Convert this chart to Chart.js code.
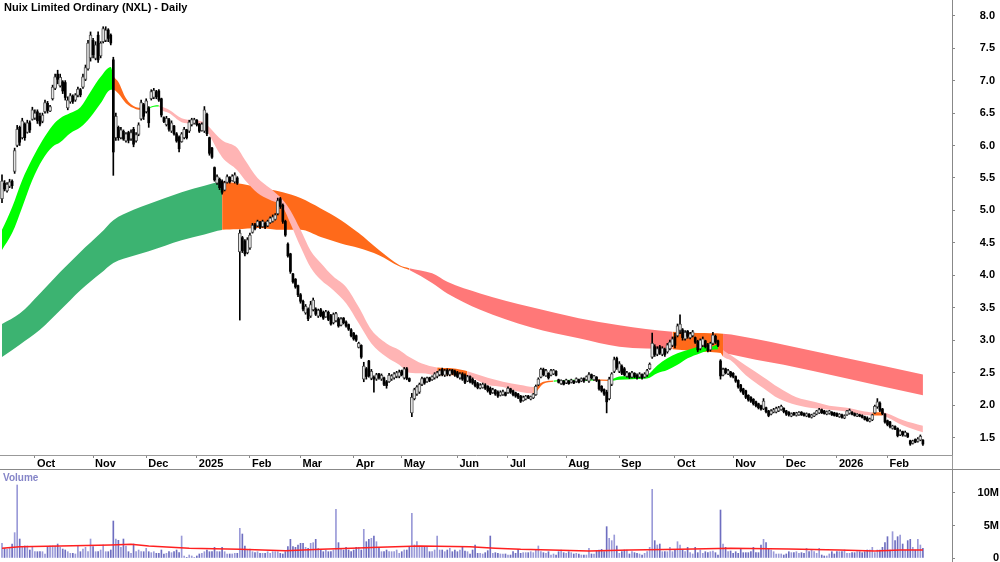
<!DOCTYPE html>
<html>
<head>
<meta charset="utf-8">
<script src="https://cdn.jsdelivr.net/npm/chart.js@4.4.1/dist/chart.umd.min.js"></script>
<style>
  html, body { margin: 0; padding: 0; background: #fff; }
  #wrap { position: relative; width: 1000px; height: 562px; overflow: hidden; font-family: "Liberation Sans", Arial, sans-serif; }
  canvas { position: absolute; left: 0; }
  #title { position: absolute; left: 4px; top: 1px; font-weight: bold; font-size: 11px; color: #000; white-space: nowrap; }
  #vlabel { position: absolute; left: 3px; top: 472px; font-weight: bold; font-size: 10px; color: #8585c8; }
  .ln { position: absolute; background: #999; }
</style>
</head>
<body>
<div id="wrap">
  <canvas id="price" width="1000" height="469" style="top:0"></canvas>
  <canvas id="vol" width="1000" height="93" style="top:469px"></canvas>
  <div class="ln" style="left:0;top:469px;width:1000px;height:1px;background:#888"></div>
  <div class="ln" style="left:952px;top:455px;width:1px;height:14px"></div>
  <div id="title">Nuix Limited Ordinary (NXL) - Daily</div>
  <div id="vlabel">Volume</div>
</div>
<script>
// daily candles, first bar = 12 Sep 2024
const opens = [
  5.18,5.42,5.30,5.37,5.45,5.60,6.00,6.28,6.12,6.33, 6.20,6.35,6.40,6.42,6.52,6.45,6.37,6.52,6.65,6.53,
  6.72,6.88,7.10,6.92,6.98,6.97,6.58,6.67,6.76,6.70, 6.77,6.86,6.90,7.02,7.18,7.35,7.62,7.34,7.70,7.38,
  7.60,7.62,7.78,7.70,7.32,6.12,6.28,6.12,6.22,6.07, 6.20,6.10,6.25,6.07,6.17,6.41,6.63,6.52,6.58,6.72,
  6.74,6.83,6.84,6.72,6.43,6.32,6.40,6.22,6.30,6.18, 6.13,6.06,6.12,6.24,6.22,6.32,6.34,6.39,6.33,6.23,
  6.22,6.48,6.12,5.96,5.66,5.42,5.48,5.45,5.31,5.43, 5.51,5.46,5.44,5.50,4.36,4.58,4.53,4.35,4.42,4.66,
  4.78,4.76,4.82,4.75,4.80,4.76,4.81,4.83,4.86,4.95, 5.18,5.08,4.83,4.48,4.33,4.02,3.94,3.84,3.70,3.60,
  3.42,3.48,3.37,3.47,3.48,3.37,3.47,3.43,3.36,3.43, 3.38,3.27,3.30,3.33,3.23,3.34,3.28,3.24,3.16,3.11,
  3.07,2.89,2.92,2.40,2.56,2.68,2.41,2.43,2.40,2.48, 2.40,2.42,2.36,2.36,2.40,2.42,2.44,2.44,2.53,2.42,
  2.56,2.41,1.88,2.10,2.17,2.20,2.32,2.41,2.36,2.42, 2.39,2.42,2.44,2.47,2.55,2.46,2.54,2.47,2.54,2.52,
  2.50,2.42,2.48,2.46,2.37,2.44,2.40,2.36,2.33,2.26, 2.27,2.31,2.29,2.26,2.19,2.23,2.20,2.15,2.16,2.19,
  2.19,2.25,2.22,2.19,2.17,2.14,2.07,2.09,2.14,2.09, 2.11,2.16,2.31,2.43,2.55,2.45,2.49,2.46,2.48,2.52,
  2.39,2.33,2.37,2.34,2.37,2.35,2.37,2.36,2.39,2.37, 2.41,2.39,2.37,2.47,2.39,2.43,2.38,2.29,2.24,2.20,
  2.10,2.32,2.52,2.72,2.52,2.60,2.56,2.44,2.49,2.43, 2.49,2.46,2.43,2.47,2.43,2.46,2.56,2.74,2.90,2.78,
  2.90,2.78,2.86,2.82,2.87,2.92,3.05,3.07,3.15,3.16, 3.02,3.14,3.04,3.07,3.04,2.98,2.87,2.92,2.99,2.93,
  2.85,2.95,3.06,2.99,2.68,2.46,2.56,2.48,2.51,2.49, 2.44,2.38,2.31,2.25,2.22,2.15,2.12,2.09,2.05,2.02,
  1.99,1.94,1.96,1.91,1.86,1.89,1.89,1.91,1.93,1.95, 1.91,1.89,1.83,1.88,1.84,1.85,1.89,1.87,1.83,1.86,
  1.81,1.83,1.86,1.88,1.93,1.91,1.86,1.87,1.89,1.88, 1.87,1.82,1.85,1.80,1.85,1.87,1.89,1.87,1.83,1.85,
  1.84,1.82,1.80,1.75,1.77,1.88,1.97,2.03,1.94,1.86, 1.76,1.74,1.64,1.67,1.64,1.54,1.59,1.53,1.56,1.45,
  1.41,1.47,1.44,1.46,1.46
];
const highs = [
  5.55,5.46,5.43,5.48,5.47,5.96,6.31,6.30,6.42,6.35, 6.39,6.38,6.59,6.55,6.55,6.50,6.50,6.70,6.68,6.62,
  6.93,7.10,7.16,7.10,7.00,7.00,6.75,6.80,6.78,6.80, 6.90,6.88,7.10,7.24,7.62,7.75,7.65,7.60,7.75,7.60,
  7.83,7.83,7.80,7.72,7.36,6.50,6.30,6.28,6.24,6.20, 6.22,6.24,6.28,6.20,6.35,6.70,6.65,6.72,6.60,6.86,
  6.88,6.85,6.86,6.73,6.44,6.45,6.42,6.38,6.31,6.20, 6.15,6.20,6.28,6.25,6.39,6.42,6.42,6.40,6.34,6.35,
  6.60,6.50,6.13,5.97,5.67,5.55,5.50,5.47,5.45,5.55, 5.52,5.55,5.58,5.52,4.70,4.60,4.55,4.58,4.65,4.80,
  4.80,4.85,4.83,4.85,4.82,4.85,4.90,4.93,4.95,5.19, 5.20,5.10,4.85,4.50,4.34,4.03,3.95,3.85,3.72,3.62,
  3.55,3.50,3.60,3.65,3.50,3.48,3.49,3.45,3.46,3.45, 3.40,3.42,3.43,3.35,3.35,3.35,3.30,3.25,3.18,3.12,
  3.08,2.97,2.93,2.66,2.58,2.69,2.55,2.45,2.49,2.49, 2.48,2.43,2.38,2.49,2.47,2.50,2.52,2.54,2.54,2.58,
  2.58,2.42,2.18,2.26,2.30,2.34,2.43,2.42,2.43,2.43, 2.45,2.50,2.52,2.55,2.57,2.55,2.56,2.55,2.55,2.54,
  2.52,2.50,2.50,2.48,2.46,2.45,2.42,2.38,2.35,2.33, 2.34,2.33,2.30,2.28,2.26,2.24,2.22,2.22,2.23,2.20,
  2.28,2.26,2.23,2.20,2.18,2.15,2.14,2.15,2.15,2.14, 2.18,2.31,2.42,2.57,2.57,2.55,2.50,2.55,2.55,2.53,
  2.40,2.39,2.38,2.40,2.38,2.40,2.38,2.42,2.40,2.42, 2.42,2.45,2.50,2.48,2.46,2.44,2.39,2.30,2.25,2.23,
  2.43,2.50,2.74,2.74,2.67,2.62,2.58,2.52,2.50,2.52, 2.50,2.48,2.50,2.48,2.50,2.55,2.65,3.11,2.93,2.90,
  2.92,2.90,2.88,2.95,3.00,3.05,3.11,3.25,3.39,3.18, 3.15,3.15,3.12,3.15,3.05,3.00,3.02,3.05,3.00,2.95,
  2.97,3.12,3.08,3.00,2.70,2.57,2.57,2.55,2.52,2.50, 2.45,2.39,2.32,2.26,2.23,2.16,2.13,2.10,2.06,2.03,
  2.00,2.10,1.97,1.92,1.93,1.95,1.97,1.98,2.00,1.96, 1.92,1.90,1.88,1.89,1.89,1.90,1.90,1.88,1.88,1.87,
  1.86,1.88,1.92,1.95,1.94,1.92,1.91,1.92,1.90,1.89, 1.88,1.87,1.86,1.85,1.92,1.94,1.90,1.88,1.87,1.86,
  1.85,1.83,1.82,1.80,1.86,2.00,2.10,2.05,1.95,1.87, 1.77,1.75,1.69,1.68,1.65,1.62,1.60,1.60,1.57,1.46,
  1.46,1.48,1.50,1.54,1.47
];
const lows = [
  5.12,5.30,5.28,5.35,5.34,5.57,5.98,6.00,6.10,6.08, 6.19,6.20,6.39,6.40,6.34,6.30,6.35,6.50,6.50,6.52,
  6.70,6.86,6.95,6.90,6.80,6.70,6.55,6.65,6.65,6.68, 6.75,6.75,6.88,7.00,7.16,7.30,7.35,7.32,7.28,7.35,
  7.58,7.60,7.60,7.55,5.54,6.08,6.08,6.10,6.08,6.05, 6.04,6.08,5.98,6.05,6.15,6.39,6.40,6.50,6.28,6.70,
  6.72,6.72,6.68,6.44,6.35,6.30,6.22,6.20,6.16,6.05, 5.90,6.05,6.10,6.10,6.20,6.30,6.33,6.30,6.20,6.22,
  6.20,6.15,5.85,5.80,5.45,5.40,5.32,5.25,5.30,5.42, 5.42,5.45,5.42,5.40,3.31,4.35,4.30,4.33,4.40,4.65,
  4.70,4.75,4.72,4.74,4.72,4.75,4.80,4.82,4.85,4.93, 5.03,4.80,4.60,4.28,4.03,3.88,3.80,3.67,3.57,3.45,
  3.40,3.30,3.35,3.45,3.38,3.35,3.36,3.32,3.35,3.30, 3.23,3.25,3.28,3.20,3.22,3.25,3.20,3.15,3.05,3.00,
  2.98,2.88,2.72,2.36,2.40,2.43,2.39,2.20,2.38,2.40, 2.38,2.30,2.26,2.35,2.38,2.40,2.42,2.42,2.45,2.40,
  2.39,2.36,1.82,2.08,2.15,2.18,2.30,2.32,2.35,2.36, 2.38,2.40,2.42,2.45,2.45,2.44,2.45,2.45,2.47,2.44,
  2.42,2.40,2.38,2.33,2.36,2.34,2.32,2.28,2.25,2.25, 2.26,2.24,2.20,2.16,2.18,2.15,2.12,2.14,2.15,2.14,
  2.18,2.18,2.14,2.12,2.10,2.04,2.06,2.08,2.10,2.08, 2.10,2.15,2.30,2.42,2.45,2.44,2.40,2.45,2.47,2.45,
  2.34,2.32,2.31,2.33,2.32,2.34,2.33,2.35,2.34,2.36, 2.35,2.38,2.35,2.40,2.38,2.36,2.23,2.20,2.15,1.88,
  2.08,2.30,2.50,2.55,2.50,2.47,2.45,2.43,2.41,2.42, 2.42,2.40,2.42,2.40,2.42,2.44,2.55,2.72,2.75,2.76,
  2.78,2.76,2.75,2.80,2.85,2.90,2.88,3.05,3.10,3.00, 3.00,3.03,3.02,3.05,2.95,2.82,2.85,2.90,2.88,2.82,
  2.83,2.93,2.95,2.90,2.40,2.45,2.48,2.47,2.43,2.42, 2.35,2.26,2.20,2.16,2.10,2.06,2.04,2.00,1.97,1.94,
  1.92,1.93,1.88,1.82,1.85,1.88,1.88,1.90,1.92,1.88, 1.84,1.83,1.82,1.84,1.83,1.84,1.84,1.83,1.82,1.81,
  1.80,1.82,1.85,1.87,1.87,1.86,1.85,1.86,1.84,1.83, 1.82,1.81,1.80,1.79,1.84,1.86,1.85,1.83,1.82,1.82,
  1.80,1.77,1.75,1.74,1.76,1.87,1.95,1.90,1.85,1.72, 1.68,1.65,1.63,1.62,1.51,1.53,1.52,1.52,1.50,1.38,
  1.40,1.42,1.43,1.45,1.38
];
const closes = [
  5.45,5.33,5.40,5.44,5.38,5.92,6.25,6.05,6.38,6.12, 6.35,6.24,6.55,6.50,6.38,6.33,6.47,6.66,6.54,6.60,
  6.90,7.06,7.02,7.05,6.84,6.74,6.70,6.77,6.68,6.78, 6.87,6.78,7.06,7.20,7.58,7.70,7.40,7.55,7.32,7.58,
  7.80,7.78,7.65,7.58,5.90,6.45,6.12,6.24,6.10,6.18, 6.08,6.20,6.02,6.17,6.32,6.66,6.45,6.69,6.35,6.83,
  6.85,6.75,6.70,6.47,6.37,6.42,6.25,6.35,6.18,6.07, 5.95,6.18,6.25,6.12,6.36,6.40,6.40,6.32,6.22,6.33,
  6.55,6.18,5.88,5.82,5.47,5.52,5.35,5.28,5.43,5.52, 5.44,5.53,5.55,5.42,4.65,4.38,4.33,4.55,4.62,4.77,
  4.72,4.83,4.74,4.83,4.74,4.83,4.88,4.90,4.93,5.15, 5.06,4.83,4.62,4.30,4.06,3.90,3.82,3.70,3.60,3.48,
  3.52,3.33,3.55,3.62,3.40,3.46,3.38,3.34,3.44,3.32, 3.25,3.40,3.41,3.22,3.33,3.27,3.22,3.17,3.07,3.02,
  3.00,2.95,2.74,2.60,2.44,2.45,2.52,2.40,2.47,2.42, 2.46,2.32,2.30,2.46,2.45,2.48,2.50,2.51,2.47,2.56,
  2.41,2.37,2.12,2.24,2.28,2.32,2.41,2.34,2.42,2.38, 2.44,2.48,2.50,2.53,2.47,2.53,2.48,2.53,2.49,2.46,
  2.44,2.48,2.40,2.35,2.44,2.36,2.34,2.30,2.27,2.31, 2.32,2.26,2.22,2.18,2.24,2.17,2.14,2.20,2.21,2.15,
  2.26,2.20,2.16,2.14,2.12,2.06,2.12,2.14,2.11,2.13, 2.17,2.29,2.40,2.55,2.47,2.53,2.42,2.53,2.54,2.46,
  2.35,2.38,2.32,2.39,2.33,2.39,2.34,2.41,2.35,2.41, 2.37,2.44,2.47,2.42,2.45,2.38,2.25,2.22,2.17,2.05,
  2.40,2.48,2.70,2.58,2.64,2.49,2.47,2.50,2.43,2.50, 2.44,2.42,2.48,2.42,2.48,2.53,2.63,2.95,2.78,2.87,
  2.80,2.88,2.78,2.93,2.97,3.02,2.92,3.22,3.25,3.04, 3.12,3.06,3.10,3.13,2.97,2.85,3.00,3.02,2.90,2.84,
  2.95,3.08,2.97,2.92,2.45,2.55,2.50,2.53,2.45,2.44, 2.37,2.28,2.22,2.18,2.12,2.08,2.06,2.02,1.99,1.96,
  1.94,2.06,1.90,1.84,1.91,1.93,1.95,1.96,1.98,1.90, 1.86,1.85,1.87,1.85,1.88,1.89,1.85,1.84,1.87,1.82,
  1.85,1.87,1.91,1.93,1.88,1.87,1.90,1.91,1.85,1.84, 1.83,1.86,1.81,1.84,1.91,1.92,1.86,1.84,1.86,1.83,
  1.81,1.78,1.76,1.79,1.85,1.98,2.05,1.92,1.87,1.74, 1.70,1.67,1.68,1.63,1.53,1.60,1.54,1.58,1.51,1.40,
  1.45,1.43,1.48,1.52,1.40
];
// volume in millions of shares
const volumes = [
  2.26,1.49,1.38,1.49,2.15,3.90,11.23,2.92,1.64,1.85, 1.85,1.23,1.64,0.97,0.97,0.97,0.97,0.62,1.74,1.85,
  1.85,1.85,2.15,1.64,1.38,1.23,0.97,0.72,0.72,0.62, 1.85,0.97,1.38,1.64,0.97,2.92,1.74,0.97,0.97,1.23,
  2.00,0.97,0.97,1.23,5.69,2.92,2.72,1.64,2.92,1.85, 0.97,0.72,2.15,0.97,1.23,0.97,0.97,1.49,0.97,0.82,
  0.97,0.72,0.72,1.23,0.62,0.72,0.97,0.82,0.97,1.23, 0.82,3.38,0.31,0.10,0.46,0.31,0.10,0.31,0.62,0.72,
  0.97,1.23,0.97,0.97,1.64,0.97,0.97,1.64,0.97,0.62, 0.62,0.62,0.72,0.72,4.56,3.69,1.85,1.23,1.38,0.97,
  0.82,0.97,0.72,0.72,0.72,0.97,0.72,0.97,0.97,0.97, 0.72,0.62,0.97,1.74,2.87,1.74,1.64,2.00,2.26,2.26,
  1.64,1.49,2.26,2.36,2.87,1.49,1.23,0.97,1.23,0.97, 0.97,1.23,7.49,2.36,1.49,1.23,1.64,1.23,0.97,1.23,
  1.64,1.64,1.23,4.41,2.51,2.87,3.03,3.38,2.51,1.64, 0.97,0.97,1.23,0.97,0.97,0.97,1.23,0.72,0.97,1.23,
  1.23,1.74,6.87,2.00,2.51,1.64,1.74,1.64,1.64,0.97, 0.97,1.23,3.38,1.23,1.23,0.97,1.23,1.49,0.97,1.23,
  0.97,1.23,1.74,1.08,0.97,0.62,1.23,2.00,0.72,0.72, 0.62,0.82,1.13,3.38,0.72,0.82,0.72,0.62,0.62,0.62,
  0.46,0.46,0.97,0.72,1.33,0.72,0.82,0.82,0.82,0.97, 0.82,1.23,1.85,0.97,0.82,0.72,0.97,0.46,0.62,0.46,
  0.97,1.23,0.82,0.72,0.97,0.82,0.62,0.72,0.62,0.46, 0.46,0.46,1.49,0.62,0.62,1.13,1.23,1.33,0.97,4.82,
  3.03,2.67,3.54,1.85,0.72,0.97,1.23,1.23,0.62,0.97, 0.82,0.72,0.62,0.46,0.72,0.97,1.64,10.56,2.67,2.00,
  2.15,0.97,0.97,0.97,1.64,0.97,1.23,2.51,2.00,1.23, 0.97,1.64,0.82,0.62,1.64,0.82,1.23,0.72,0.97,0.82,
  0.97,1.08,0.82,0.46,7.38,2.15,1.64,0.97,1.08,0.72, 0.97,0.72,1.33,0.82,0.82,0.82,0.97,1.64,0.82,0.82,
  2.00,2.87,2.36,1.33,1.23,0.97,0.62,0.62,0.62,0.46, 0.62,0.97,0.82,0.82,0.97,0.72,0.82,0.72,1.49,0.97,
  1.23,0.97,0.72,1.49,0.46,0.31,0.31,0.62,0.97,0.62, 0.97,0.97,0.97,1.23,0.72,0.72,0.82,0.82,0.97,0.97,
  0.82,0.97,1.23,1.23,1.64,0.82,1.23,1.23,1.64,2.36, 3.28,1.23,4.05,2.67,3.28,3.54,2.15,1.23,2.67,2.87,
  1.64,1.23,2.87,2.00,1.49
];
// volume moving average, read at sample bars
const volMaIdx = [0,7,23,43,51,58,74,94,112,126,138,149,165,185,195,205,217,232,248,268,288,311,331,345,355,364];
const volMa    = [1.5,1.74,1.85,2.0,2.1,1.85,1.5,1.33,1.13,1.33,1.5,1.64,1.85,1.74,1.5,1.33,1.23,1.08,1.23,1.33,1.5,1.4,1.23,1.08,1.23,1.23];

// short-term ribbon (edges read at sample bars; G rising, O mixed, P falling)
const shortIdx = [0,4,8,12,16,20,23,27,31,35,39,43,44,46,49,53,55,57,61,62,63,66,71,75,80,82,87,93,96,101,
  106,111,114,118,122,126,131,136,141,146,152,157,161,166,172,177,182,184,192,198,205,210,214,218,226,234,240,244,249,255,
  259,263,267,271,276,280,283,285,288,294,301,307,314,321,327,334,340,344,348,350,356,364];
const shortTop = [4.70,5.05,5.47,5.80,6.08,6.31,6.42,6.50,6.59,6.83,7.06,7.21,7.08,6.98,6.73,6.59,6.58,6.58,6.62,6.62,
  6.60,6.55,6.42,6.39,6.36,6.28,6.08,5.96,5.78,5.50,5.34,5.16,5.00,4.70,4.38,4.19,3.98,3.82,3.51,3.16,
  2.95,2.85,2.74,2.64,2.58,2.57,2.54,2.52,2.42,2.36,2.31,2.28,2.36,2.38,2.39,2.40,2.39,2.44,2.45,2.47,
  2.61,2.72,2.80,2.85,2.90,2.90,2.93,2.85,2.77,2.61,2.43,2.27,2.12,2.05,1.99,1.96,1.91,1.89,1.89,1.87,1.77,1.68];
const shortBot = [4.39,4.65,5.05,5.47,5.78,5.98,6.05,6.19,6.28,6.44,6.65,6.86,6.86,6.80,6.65,6.56,6.55,6.56,6.60,6.60,
  6.55,6.50,6.36,6.34,6.31,6.16,5.82,5.62,5.47,5.27,5.16,5.05,4.80,4.44,4.12,3.93,3.77,3.57,3.26,2.95,
  2.74,2.62,2.50,2.49,2.46,2.46,2.46,2.45,2.31,2.28,2.20,2.18,2.33,2.36,2.37,2.38,2.37,2.39,2.40,2.41,
  2.49,2.54,2.62,2.72,2.80,2.85,2.86,2.75,2.69,2.46,2.26,2.10,2.00,1.95,1.93,1.90,1.85,1.84,1.84,1.81,1.69,1.58];
const shortCol = ('GGGGGGGGGG' + 'GGOOOOGGGP' + 'PPPPPPPPPP' + 'PPPPPPPPPP' + 'PPPPOOOPPP' +
  'POOGGOGGGG' + 'GGGGGGOPPP' + 'PPPPPPPOPP' + 'PP').split('');

// long-term ribbon (D rising, O mixed, R falling)
const longIdx = [0,7,15,23,31,39,44,52,58,71,80,87,93,101,111,118,126,134,141,149,157,161,170,176,189,209,228,244,265,275,285,298,309,334,364];
const longTop = [3.25,3.41,3.72,4.05,4.36,4.65,4.85,5.01,5.10,5.28,5.38,5.44,5.42,5.36,5.28,5.19,5.03,4.85,4.65,4.39,
  4.16,4.11,4.03,3.90,3.72,3.51,3.34,3.23,3.13,3.11,3.10,3.02,2.93,2.72,2.47];
const longBot = [2.74,2.93,3.16,3.46,3.77,4.03,4.19,4.30,4.37,4.54,4.63,4.70,4.71,4.73,4.70,4.70,4.59,4.49,4.42,4.31,
  4.14,4.08,3.88,3.72,3.47,3.20,3.03,2.90,2.86,2.83,2.80,2.70,2.62,2.41,2.15];
const longCol = ('DDDDDDDDDDD' + 'OOOOOOOOOO' + 'RRRRRRR' + 'OO' + 'RRRRR').split('');

const priceTicks = [1.5,2.0,2.5,3.0,3.5,4.0,4.5,5.0,5.5,6.0,6.5,7.0,7.5,8.0];
const volTicks = [0, 5, 10];
const volTickLabels = ['0', '5M', '10M'];
const monthNames = ['Jan','Feb','Mar','Apr','May','Jun','Jul','Aug','Sep','Oct','Nov','Dec'];
const holidays = ['2024-12-25','2024-12-26','2025-01-01','2025-01-27','2025-04-18','2025-04-21','2025-04-25',
  '2025-06-09','2025-12-25','2025-12-26','2026-01-01','2026-01-26'];

const FONT = '"Liberation Sans", Arial, sans-serif';
const ribbonColors = { G: '#00ff00', O: '#ff6a1a', P: '#ffb4b4', D: '#3cb371', R: '#ff7878' };

// trading days -> month tick positions
const dates = [];
const d = new Date(2024, 8, 12);
while (dates.length < closes.length) {
  const key = d.getFullYear() + '-' + String(d.getMonth() + 1).padStart(2, '0') + '-' + String(d.getDate()).padStart(2, '0');
  if (d.getDay() !== 0 && d.getDay() !== 6 && !holidays.includes(key)) dates.push(new Date(d));
  d.setDate(d.getDate() + 1);
}
const monthTicks = [];
const monthLabels = {};
dates.forEach((dt, i) => {
  if (i > 0 && dt.getMonth() !== dates[i - 1].getMonth()) {
    monthTicks.push(i);
    monthLabels[i] = dt.getMonth() === 0 ? String(dt.getFullYear()) : monthNames[dt.getMonth()];
  }
});

const xMin = -0.79, xMax = 375.5;
const pts = (idx, vals) => idx.map((x, k) => ({ x: x, y: vals[k] }));

const wicks = closes.map((c, i) => ({ x: i, y: [lows[i], highs[i]] }));
const upBodies = [], downBodies = [];
closes.forEach((c, i) => {
  const o = opens[i];
  (c >= o ? upBodies : downBodies).push({ x: i, y: [Math.min(o, c), Math.max(o, c)] });
});

function ribbon(idx, top, bot, cols, order) {
  return [{
    type: 'line', data: pts(idx, top), fill: '+1', pointRadius: 0, borderWidth: 0,
    borderColor: 'rgba(0,0,0,0)', cubicInterpolationMode: 'monotone', order: order,
    backgroundColor: ribbonColors[cols[0]],
    segment: { backgroundColor: c => ribbonColors[cols[c.p0DataIndex]], borderColor: 'rgba(0,0,0,0)' }
  }, {
    type: 'line', data: pts(idx, bot), fill: false, pointRadius: 0, borderWidth: 0,
    borderColor: 'rgba(0,0,0,0)', cubicInterpolationMode: 'monotone', order: order + 1
  }];
}

// keep the plot area flush with the canvas edges
const noPad = ax => { ax.paddingTop = 0; ax.paddingBottom = 0; ax.paddingLeft = 0; ax.paddingRight = 0; };
const tickFont = { family: FONT, size: 11, weight: 'bold' };

new Chart(document.getElementById('price'), {
  type: 'bar',
  data: {
    datasets: [
      ...ribbon(longIdx, longTop, longBot, longCol, 10),
      ...ribbon(shortIdx, shortTop, shortBot, shortCol, 8),
      { type: 'bar', data: wicks, backgroundColor: '#000', barThickness: 1, grouped: false, order: 3 },
      { type: 'bar', data: upBodies, backgroundColor: '#e4e4e4', borderColor: '#555', borderWidth: 1,
        borderSkipped: false, barThickness: 3, grouped: false, order: 2 },
      { type: 'bar', data: downBodies, backgroundColor: '#000', barThickness: 2, grouped: false, order: 1 }
    ]
  },
  options: {
    responsive: false, animation: false, events: [],
    layout: { padding: { left: 0, right: 5, top: 0, bottom: 0 } },
    plugins: { legend: { display: false }, tooltip: { enabled: false } },
    scales: {
      x: {
        type: 'linear', min: xMin, max: xMax, offset: false,
        afterBuildTicks: ax => { ax.ticks = monthTicks.map(v => ({ value: v })); },
        afterFit: ax => { ax.height = 14; noPad(ax); },
        grid: { drawOnChartArea: false, drawTicks: true, tickLength: 3, color: '#888', offset: false },
        border: { display: true, color: '#999' },
        ticks: { autoSkip: false, maxRotation: 0, align: 'start', padding: -1, labelOffset: 2,
          color: '#000', font: tickFont, callback: v => monthLabels[v] || '' }
      },
      y: {
        position: 'right', min: 1.231, max: 8.242,
        afterBuildTicks: ax => { ax.ticks = priceTicks.map(v => ({ value: v })); },
        afterFit: ax => { ax.width = 43; noPad(ax); },
        grid: { drawOnChartArea: false, tickLength: 3, color: '#888' },
        border: { display: true, color: '#888' },
        ticks: { crossAlign: 'far', color: '#000', font: tickFont, callback: v => v.toFixed(1) }
      }
    }
  }
});

new Chart(document.getElementById('vol'), {
  type: 'bar',
  data: {
    datasets: [
      { type: 'line', data: pts(volMaIdx, volMa), borderColor: '#ff2020', borderWidth: 1.5, pointRadius: 0,
        fill: false, order: 0 },
      { type: 'bar', data: volumes.map((v, i) => ({ x: i, y: v })),
        backgroundColor: volumes.map((v, i) => closes[i] >= opens[i] ? '#9a9ad8' : '#6e6ec0'),
        barThickness: 1, grouped: false, order: 1 }
    ]
  },
  options: {
    responsive: false, animation: false, events: [],
    layout: { padding: { left: 0, right: 1, top: 0, bottom: 0 } },
    plugins: { legend: { display: false }, tooltip: { enabled: false } },
    scales: {
      x: { type: 'linear', min: xMin, max: xMax, offset: false, display: false },
      y: {
        position: 'right', min: -0.615, max: 13.69,
        afterBuildTicks: ax => { ax.ticks = volTicks.map(v => ({ value: v })); },
        afterFit: ax => { ax.width = 47; noPad(ax); },
        grid: { drawOnChartArea: false, tickLength: 3, color: '#888' },
        border: { display: true, color: '#888' },
        ticks: { crossAlign: 'far', color: '#000', font: tickFont,
          callback: v => volTickLabels[volTicks.indexOf(v)] }
      }
    }
  }
});
</script>
</body>
</html>
